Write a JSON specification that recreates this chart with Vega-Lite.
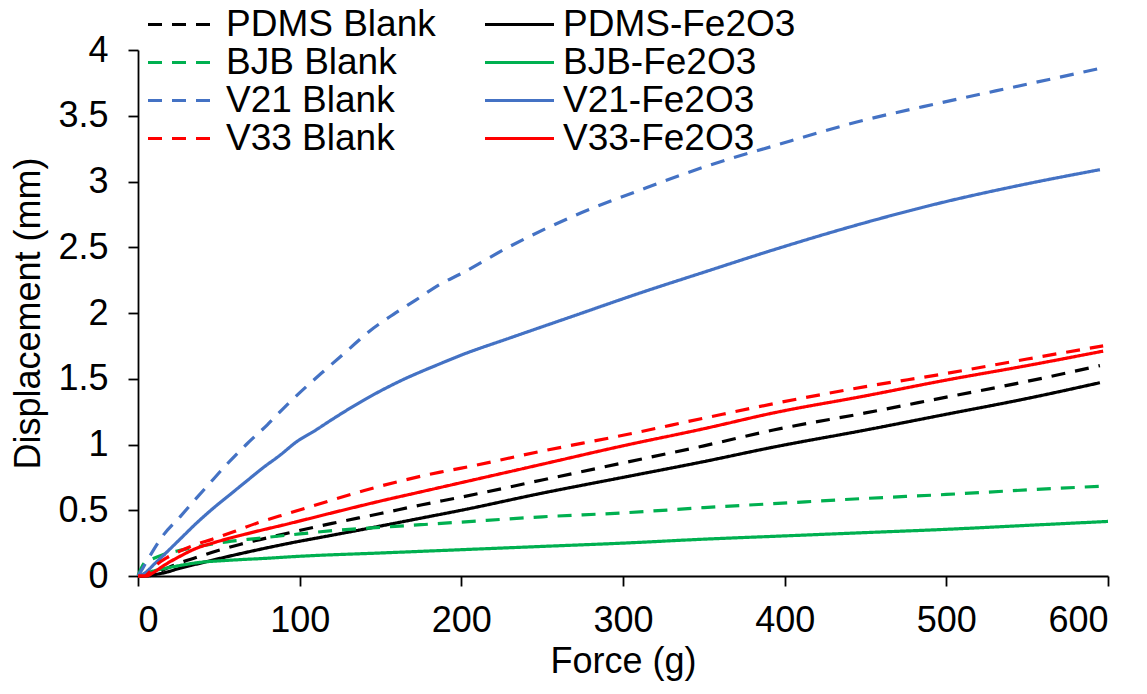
{
  "$schema": "https://vega.github.io/schema/vega-lite/v6.json",
  "width": 970,
  "height": 526,
  "autosize": {"type": "none"},
  "padding": {"left": 138, "top": 50, "right": 39, "bottom": 118},
  "background": "white",
  "config": {
    "view": {"stroke": null},
    "font": "Liberation Sans",
    "axis": {
      "grid": false,
      "domainColor": "#000000",
      "domainWidth": 1.8,
      "tickColor": "#000000",
      "tickWidth": 1.8,
      "tickSize": 10,
      "labelFont": "Liberation Sans",
      "labelFontSize": 36,
      "labelColor": "#000000",
      "titleFont": "Liberation Sans",
      "titleFontSize": 36,
      "titleFontWeight": "normal",
      "titleColor": "#000000"
    },
    "legend": {
      "labelFont": "Liberation Sans",
      "labelFontSize": 37,
      "labelColor": "#000000",
      "labelLimit": 600
    }
  },
  "data": {
    "values": [
      {"s": "PDMS Blank", "F": 0, "D": 0}, {"s": "PDMS Blank", "F": 5, "D": 0.005}, {"s": "PDMS Blank", "F": 10, "D": 0.02}, {"s": "PDMS Blank", "F": 18, "D": 0.06}, {"s": "PDMS Blank", "F": 26, "D": 0.1}, {"s": "PDMS Blank", "F": 36, "D": 0.14}, {"s": "PDMS Blank", "F": 46, "D": 0.18}, {"s": "PDMS Blank", "F": 63, "D": 0.24}, {"s": "PDMS Blank", "F": 80, "D": 0.29}, {"s": "PDMS Blank", "F": 94, "D": 0.33}, {"s": "PDMS Blank", "F": 120, "D": 0.4}, {"s": "PDMS Blank", "F": 150, "D": 0.475}, {"s": "PDMS Blank", "F": 175, "D": 0.54}, {"s": "PDMS Blank", "F": 200, "D": 0.6}, {"s": "PDMS Blank", "F": 250, "D": 0.73}, {"s": "PDMS Blank", "F": 300, "D": 0.86}, {"s": "PDMS Blank", "F": 350, "D": 0.99}, {"s": "PDMS Blank", "F": 393, "D": 1.11}, {"s": "PDMS Blank", "F": 450, "D": 1.24}, {"s": "PDMS Blank", "F": 500, "D": 1.36}, {"s": "PDMS Blank", "F": 550, "D": 1.48}, {"s": "PDMS Blank", "F": 595, "D": 1.6},
      {"s": "PDMS-Fe2O3", "F": 0, "D": 0}, {"s": "PDMS-Fe2O3", "F": 5, "D": 0}, {"s": "PDMS-Fe2O3", "F": 10, "D": 0.01}, {"s": "PDMS-Fe2O3", "F": 18, "D": 0.03}, {"s": "PDMS-Fe2O3", "F": 26, "D": 0.06}, {"s": "PDMS-Fe2O3", "F": 36, "D": 0.09}, {"s": "PDMS-Fe2O3", "F": 46, "D": 0.12}, {"s": "PDMS-Fe2O3", "F": 67, "D": 0.18}, {"s": "PDMS-Fe2O3", "F": 94, "D": 0.25}, {"s": "PDMS-Fe2O3", "F": 120, "D": 0.31}, {"s": "PDMS-Fe2O3", "F": 150, "D": 0.38}, {"s": "PDMS-Fe2O3", "F": 175, "D": 0.44}, {"s": "PDMS-Fe2O3", "F": 200, "D": 0.5}, {"s": "PDMS-Fe2O3", "F": 250, "D": 0.63}, {"s": "PDMS-Fe2O3", "F": 300, "D": 0.75}, {"s": "PDMS-Fe2O3", "F": 350, "D": 0.87}, {"s": "PDMS-Fe2O3", "F": 393, "D": 0.98}, {"s": "PDMS-Fe2O3", "F": 450, "D": 1.11}, {"s": "PDMS-Fe2O3", "F": 500, "D": 1.23}, {"s": "PDMS-Fe2O3", "F": 550, "D": 1.35}, {"s": "PDMS-Fe2O3", "F": 595, "D": 1.47},
      {"s": "BJB Blank", "F": 0, "D": 0}, {"s": "BJB Blank", "F": 2, "D": 0.06}, {"s": "BJB Blank", "F": 4, "D": 0.1}, {"s": "BJB Blank", "F": 9, "D": 0.13}, {"s": "BJB Blank", "F": 15, "D": 0.16}, {"s": "BJB Blank", "F": 26, "D": 0.195}, {"s": "BJB Blank", "F": 40, "D": 0.23}, {"s": "BJB Blank", "F": 55, "D": 0.26}, {"s": "BJB Blank", "F": 73, "D": 0.285}, {"s": "BJB Blank", "F": 100, "D": 0.32}, {"s": "BJB Blank", "F": 125, "D": 0.35}, {"s": "BJB Blank", "F": 150, "D": 0.37}, {"s": "BJB Blank", "F": 175, "D": 0.39}, {"s": "BJB Blank", "F": 200, "D": 0.41}, {"s": "BJB Blank", "F": 250, "D": 0.45}, {"s": "BJB Blank", "F": 300, "D": 0.48}, {"s": "BJB Blank", "F": 350, "D": 0.52}, {"s": "BJB Blank", "F": 393, "D": 0.55}, {"s": "BJB Blank", "F": 450, "D": 0.59}, {"s": "BJB Blank", "F": 500, "D": 0.62}, {"s": "BJB Blank", "F": 550, "D": 0.655}, {"s": "BJB Blank", "F": 600, "D": 0.685},
      {"s": "BJB-Fe2O3", "F": 0, "D": 0}, {"s": "BJB-Fe2O3", "F": 5, "D": 0.02}, {"s": "BJB-Fe2O3", "F": 10, "D": 0.04}, {"s": "BJB-Fe2O3", "F": 16, "D": 0.056}, {"s": "BJB-Fe2O3", "F": 26, "D": 0.08}, {"s": "BJB-Fe2O3", "F": 36, "D": 0.1}, {"s": "BJB-Fe2O3", "F": 57, "D": 0.12}, {"s": "BJB-Fe2O3", "F": 80, "D": 0.135}, {"s": "BJB-Fe2O3", "F": 100, "D": 0.15}, {"s": "BJB-Fe2O3", "F": 150, "D": 0.175}, {"s": "BJB-Fe2O3", "F": 200, "D": 0.2}, {"s": "BJB-Fe2O3", "F": 250, "D": 0.225}, {"s": "BJB-Fe2O3", "F": 300, "D": 0.25}, {"s": "BJB-Fe2O3", "F": 350, "D": 0.28}, {"s": "BJB-Fe2O3", "F": 400, "D": 0.305}, {"s": "BJB-Fe2O3", "F": 450, "D": 0.33}, {"s": "BJB-Fe2O3", "F": 500, "D": 0.355}, {"s": "BJB-Fe2O3", "F": 550, "D": 0.385}, {"s": "BJB-Fe2O3", "F": 600, "D": 0.415},
      {"s": "V21 Blank", "F": 0, "D": 0}, {"s": "V21 Blank", "F": 3, "D": 0.06}, {"s": "V21 Blank", "F": 7, "D": 0.145}, {"s": "V21 Blank", "F": 15, "D": 0.3}, {"s": "V21 Blank", "F": 26, "D": 0.45}, {"s": "V21 Blank", "F": 36, "D": 0.59}, {"s": "V21 Blank", "F": 44, "D": 0.7}, {"s": "V21 Blank", "F": 55, "D": 0.85}, {"s": "V21 Blank", "F": 67, "D": 1.0}, {"s": "V21 Blank", "F": 80, "D": 1.15}, {"s": "V21 Blank", "F": 92, "D": 1.3}, {"s": "V21 Blank", "F": 105, "D": 1.45}, {"s": "V21 Blank", "F": 117, "D": 1.58}, {"s": "V21 Blank", "F": 130, "D": 1.72}, {"s": "V21 Blank", "F": 143, "D": 1.86}, {"s": "V21 Blank", "F": 158, "D": 1.99}, {"s": "V21 Blank", "F": 172, "D": 2.1}, {"s": "V21 Blank", "F": 187, "D": 2.22}, {"s": "V21 Blank", "F": 200, "D": 2.3}, {"s": "V21 Blank", "F": 229, "D": 2.5}, {"s": "V21 Blank", "F": 270, "D": 2.74}, {"s": "V21 Blank", "F": 314, "D": 2.95}, {"s": "V21 Blank", "F": 355, "D": 3.13}, {"s": "V21 Blank", "F": 393, "D": 3.27}, {"s": "V21 Blank", "F": 444, "D": 3.45}, {"s": "V21 Blank", "F": 497, "D": 3.6}, {"s": "V21 Blank", "F": 550, "D": 3.74}, {"s": "V21 Blank", "F": 595, "D": 3.86},
      {"s": "V21-Fe2O3", "F": 0, "D": 0}, {"s": "V21-Fe2O3", "F": 4, "D": 0.02}, {"s": "V21-Fe2O3", "F": 10, "D": 0.09}, {"s": "V21-Fe2O3", "F": 16, "D": 0.16}, {"s": "V21-Fe2O3", "F": 26, "D": 0.28}, {"s": "V21-Fe2O3", "F": 36, "D": 0.4}, {"s": "V21-Fe2O3", "F": 47, "D": 0.52}, {"s": "V21-Fe2O3", "F": 57, "D": 0.62}, {"s": "V21-Fe2O3", "F": 67, "D": 0.72}, {"s": "V21-Fe2O3", "F": 77, "D": 0.82}, {"s": "V21-Fe2O3", "F": 88, "D": 0.92}, {"s": "V21-Fe2O3", "F": 98, "D": 1.02}, {"s": "V21-Fe2O3", "F": 110, "D": 1.11}, {"s": "V21-Fe2O3", "F": 120, "D": 1.19}, {"s": "V21-Fe2O3", "F": 140, "D": 1.34}, {"s": "V21-Fe2O3", "F": 160, "D": 1.47}, {"s": "V21-Fe2O3", "F": 188, "D": 1.62}, {"s": "V21-Fe2O3", "F": 200, "D": 1.68}, {"s": "V21-Fe2O3", "F": 230, "D": 1.81}, {"s": "V21-Fe2O3", "F": 270, "D": 1.98}, {"s": "V21-Fe2O3", "F": 310, "D": 2.15}, {"s": "V21-Fe2O3", "F": 350, "D": 2.31}, {"s": "V21-Fe2O3", "F": 393, "D": 2.48}, {"s": "V21-Fe2O3", "F": 442, "D": 2.66}, {"s": "V21-Fe2O3", "F": 494, "D": 2.83}, {"s": "V21-Fe2O3", "F": 545, "D": 2.97}, {"s": "V21-Fe2O3", "F": 595, "D": 3.09},
      {"s": "V33 Blank", "F": 0, "D": 0}, {"s": "V33 Blank", "F": 4, "D": 0}, {"s": "V33 Blank", "F": 8, "D": 0.04}, {"s": "V33 Blank", "F": 12, "D": 0.09}, {"s": "V33 Blank", "F": 18, "D": 0.14}, {"s": "V33 Blank", "F": 26, "D": 0.19}, {"s": "V33 Blank", "F": 36, "D": 0.24}, {"s": "V33 Blank", "F": 46, "D": 0.28}, {"s": "V33 Blank", "F": 60, "D": 0.34}, {"s": "V33 Blank", "F": 73, "D": 0.4}, {"s": "V33 Blank", "F": 94, "D": 0.48}, {"s": "V33 Blank", "F": 118, "D": 0.57}, {"s": "V33 Blank", "F": 140, "D": 0.65}, {"s": "V33 Blank", "F": 160, "D": 0.715}, {"s": "V33 Blank", "F": 187, "D": 0.79}, {"s": "V33 Blank", "F": 200, "D": 0.82}, {"s": "V33 Blank", "F": 250, "D": 0.95}, {"s": "V33 Blank", "F": 300, "D": 1.07}, {"s": "V33 Blank", "F": 350, "D": 1.2}, {"s": "V33 Blank", "F": 393, "D": 1.31}, {"s": "V33 Blank", "F": 450, "D": 1.44}, {"s": "V33 Blank", "F": 500, "D": 1.54}, {"s": "V33 Blank", "F": 550, "D": 1.65}, {"s": "V33 Blank", "F": 597, "D": 1.75},
      {"s": "V33-Fe2O3", "F": 0, "D": 0}, {"s": "V33-Fe2O3", "F": 5, "D": 0}, {"s": "V33-Fe2O3", "F": 10, "D": 0.03}, {"s": "V33-Fe2O3", "F": 16, "D": 0.08}, {"s": "V33-Fe2O3", "F": 26, "D": 0.15}, {"s": "V33-Fe2O3", "F": 36, "D": 0.21}, {"s": "V33-Fe2O3", "F": 46, "D": 0.25}, {"s": "V33-Fe2O3", "F": 67, "D": 0.32}, {"s": "V33-Fe2O3", "F": 94, "D": 0.4}, {"s": "V33-Fe2O3", "F": 120, "D": 0.48}, {"s": "V33-Fe2O3", "F": 150, "D": 0.57}, {"s": "V33-Fe2O3", "F": 175, "D": 0.64}, {"s": "V33-Fe2O3", "F": 200, "D": 0.71}, {"s": "V33-Fe2O3", "F": 250, "D": 0.85}, {"s": "V33-Fe2O3", "F": 300, "D": 0.99}, {"s": "V33-Fe2O3", "F": 350, "D": 1.12}, {"s": "V33-Fe2O3", "F": 393, "D": 1.24}, {"s": "V33-Fe2O3", "F": 450, "D": 1.37}, {"s": "V33-Fe2O3", "F": 500, "D": 1.49}, {"s": "V33-Fe2O3", "F": 550, "D": 1.6}, {"s": "V33-Fe2O3", "F": 597, "D": 1.71}
    ]
  },
  "mark": {"type": "line", "strokeWidth": 3.2, "clip": false, "interpolate": "monotone"},
  "encoding": {
    "x": {
      "field": "F",
      "type": "quantitative",
      "scale": {"domain": [0, 600], "nice": false, "zero": true},
      "axis": {"title": "Force (g)", "values": [0, 100, 200, 300, 400, 500, 600], "labelPadding": 17, "titlePadding": 6}
    },
    "y": {
      "field": "D",
      "type": "quantitative",
      "scale": {"domain": [0, 4], "nice": false},
      "axis": {"title": "Displacement (mm)", "values": [0, 0.5, 1, 1.5, 2, 2.5, 3, 3.5, 4], "format": "~g", "labelPadding": 20, "titlePadding": 10}
    },
    "color": {
      "field": "s",
      "type": "nominal",
      "scale": {
        "domain": ["PDMS Blank", "BJB Blank", "V21 Blank", "V33 Blank", "PDMS-Fe2O3", "BJB-Fe2O3", "V21-Fe2O3", "V33-Fe2O3"],
        "range": ["#000000", "#00B050", "#4472C4", "#FF0000", "#000000", "#00B050", "#4472C4", "#FF0000"]
      },
      "legend": {
        "title": null,
        "orient": "none",
        "legendX": 8,
        "legendY": -44,
        "columns": 2,
        "columnPadding": 47,
        "rowPadding": 0,
        "clipHeight": 37,
        "symbolType": "stroke",
        "symbolSize": 4761,
        "symbolStrokeWidth": 3.2,
        "labelOffset": 7
      }
    },
    "strokeDash": {
      "field": "s",
      "type": "nominal",
      "scale": {
        "domain": ["PDMS Blank", "BJB Blank", "V21 Blank", "V33 Blank", "PDMS-Fe2O3", "BJB-Fe2O3", "V21-Fe2O3", "V33-Fe2O3"],
        "range": [[14, 10], [14, 10], [14, 10], [14, 10], [1, 0], [1, 0], [1, 0], [1, 0]]
      },
      "legend": {
        "title": null,
        "orient": "none",
        "legendX": 8,
        "legendY": -44,
        "columns": 2,
        "columnPadding": 47,
        "rowPadding": 0,
        "clipHeight": 37,
        "symbolType": "stroke",
        "symbolSize": 4761,
        "symbolStrokeWidth": 3.2,
        "labelOffset": 7
      }
    }
  }
}
